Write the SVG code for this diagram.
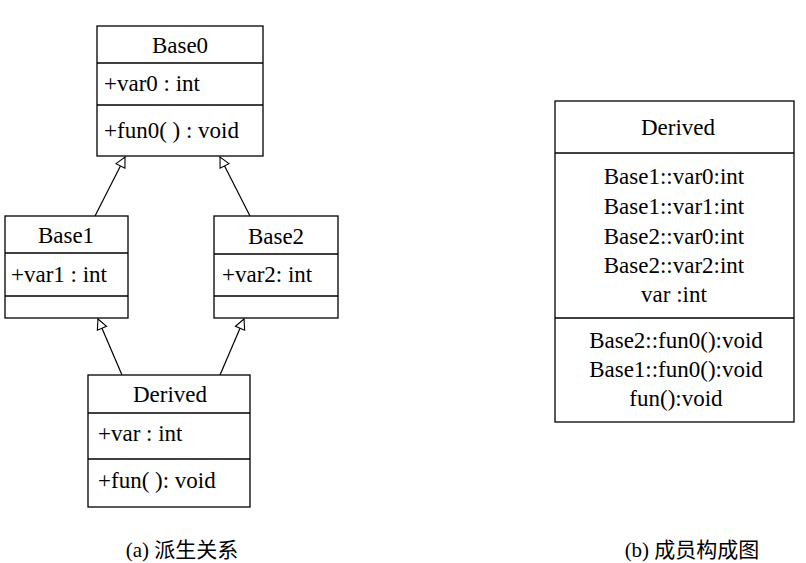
<svg xmlns="http://www.w3.org/2000/svg" width="806" height="563" viewBox="0 0 806 563">
<style>
rect,line.d{fill:#fff;stroke:#000;stroke-width:1.3}
text{font-family:"Liberation Serif","Noto Sans CJK SC",serif;font-size:23px;fill:#000}
.c{text-anchor:middle}
.e{stroke:#000;stroke-width:1.2;fill:none}
</style>
<defs><marker id="tri" viewBox="0 0 12 12" refX="11" refY="6" markerWidth="12" markerHeight="12" markerUnits="userSpaceOnUse" orient="auto"><path d="M1,1 L11,6 L1,11 Z" fill="#fff" stroke="#000" stroke-width="1.1"/></marker></defs>
<rect width="806" height="563" style="stroke:none"/>
<g id="Base0"><rect x="97" y="26" width="166" height="130"/><line class="d" x1="97" y1="63" x2="263" y2="63"/><line class="d" x1="97" y1="105" x2="263" y2="105"/>
<text class="c" x="180" y="53">Base0</text><text x="104" y="91">+var0 : int</text><text x="104" y="138">+fun0( ) : void</text></g>
<g id="Base1"><rect x="5" y="216" width="123" height="102"/><line class="d" x1="5" y1="253" x2="128" y2="253"/><line class="d" x1="5" y1="296" x2="128" y2="296"/>
<text class="c" x="66" y="243">Base1</text><text x="11" y="282">+var1 : int</text></g>
<g id="Base2"><rect x="214" y="216" width="124" height="102"/><line class="d" x1="214" y1="254" x2="338" y2="254"/><line class="d" x1="214" y1="296" x2="338" y2="296"/>
<text class="c" x="276" y="244">Base2</text><text x="222" y="282">+var2: int</text></g>
<g id="Derived"><rect x="88" y="375" width="162" height="132"/><line class="d" x1="88" y1="413" x2="250" y2="413"/><line class="d" x1="88" y1="459" x2="250" y2="459"/>
<text class="c" x="170" y="402">Derived</text><text x="98" y="441">+var : int</text><text x="98" y="488">+fun( ): void</text></g>
<g id="connectors">
<line class="e" x1="95" y1="216" x2="125" y2="157" marker-end="url(#tri)"/>
<line class="e" x1="250" y1="216" x2="220" y2="157" marker-end="url(#tri)"/>
<line class="e" x1="122" y1="375" x2="98" y2="319" marker-end="url(#tri)"/>
<line class="e" x1="220" y1="375" x2="244" y2="319" marker-end="url(#tri)"/>
</g>
<g id="DerivedLayout"><rect x="555" y="101" width="239" height="321"/><line class="d" x1="555" y1="153" x2="794" y2="153"/><line class="d" x1="555" y1="318" x2="794" y2="318"/>
<text class="c" x="678" y="135">Derived</text>
<text class="c" x="674" y="184">Base1::var0:int</text><text class="c" x="674" y="214">Base1::var1:int</text><text class="c" x="674" y="244">Base2::var0:int</text><text class="c" x="674" y="273">Base2::var2:int</text><text class="c" x="674" y="302">var :int</text>
<text class="c" x="676" y="348">Base2::fun0():void</text><text class="c" x="676" y="377">Base1::fun0():void</text><text class="c" x="676" y="406">fun():void</text></g>
<text class="c" x="182" y="557" style="font-size:21px">(a) 派生关系</text>
<text class="c" x="692" y="557" style="font-size:21px">(b) 成员构成图</text>
</svg>
